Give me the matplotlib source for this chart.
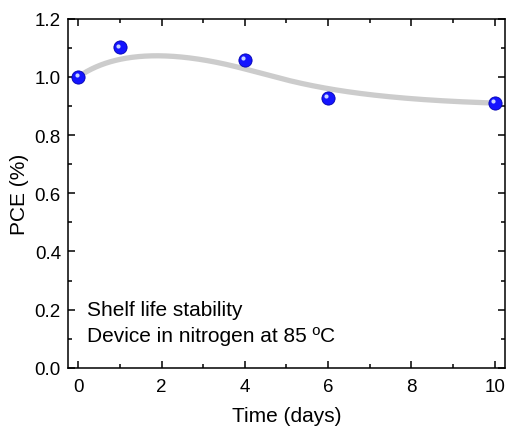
import numpy as np
import matplotlib
matplotlib.use("Agg")
import matplotlib.pyplot as plt
from matplotlib.ticker import MultipleLocator

plt.rcParams['font.family'] = ['Liberation Sans', 'DejaVu Sans']

time_days = [0, 1, 4, 6, 10]
pce = [1.00, 1.101, 1.058, 0.928, 0.910]
xlabel = "Time (days)"
ylabel = "PCE (%)"
note = "Shelf life stability\nDevice in nitrogen at 85 \u00baC"


def bspline(ctrl, n=300, k=3):
    ctrl = np.asarray(ctrl, float)
    m = len(ctrl)
    knots = np.concatenate([np.zeros(k), np.linspace(0, 1, m - k + 1), np.ones(k)])
    ts = np.linspace(0, 1, n)
    out = []
    for t in ts:
        if t >= 1:
            s = m - 1
        else:
            s = np.searchsorted(knots, t, side='right') - 1
        d = [ctrl[j + s - k].copy() for j in range(k + 1)]
        for r in range(1, k + 1):
            for j in range(k, r - 1, -1):
                i = j + s - k
                denom = knots[i + k + 1 - r] - knots[i]
                a = 0 if denom == 0 else (t - knots[i]) / denom
                d[j] = (1 - a) * d[j - 1] + a * d[j]
        out.append(d[k])
    return np.array(out)


fig = plt.figure(figsize=(5.07, 4.27), dpi=100)
ax = fig.add_axes([0.134, 0.136, 0.862, 0.818])

curve = bspline(np.column_stack([time_days, pce]))
ax.plot(curve[:, 0], curve[:, 1], color='#cccccc', lw=3.8, solid_capstyle='round', zorder=1)
ax.plot(time_days, pce, 'o', ms=9.5, color='#1414ff', mec='#0000b0', mew=0.6, zorder=3)
ax.plot(time_days, pce, 'o', ms=3.0, color='#c8d4ff', mec='none', zorder=4,
        transform=ax.transData + matplotlib.transforms.ScaledTranslation(-1.2/72, 1.2/72, fig.dpi_scale_trans))

ax.set_xlim(-0.25, 10.25)
ax.set_ylim(0, 1.2)
ax.xaxis.set_major_locator(MultipleLocator(2))
ax.xaxis.set_minor_locator(MultipleLocator(1))
ax.yaxis.set_major_locator(MultipleLocator(0.2))
ax.yaxis.set_minor_locator(MultipleLocator(0.1))
ax.yaxis.set_major_formatter(matplotlib.ticker.FormatStrFormatter('%.1f'))
ax.tick_params(which='both', direction='in', top=True, right=True, labelsize=13.5, width=1.1)
ax.tick_params(which='major', length=5)
ax.tick_params(which='minor', length=3)
ax.tick_params(axis='x', pad=7)
ax.tick_params(axis='y', pad=5)
for s in ax.spines.values():
    s.set_linewidth(1.1)
ax.set_xlabel(xlabel, fontsize=15, labelpad=8)
ax.set_ylabel(ylabel, fontsize=15, labelpad=4)
ax.text(0.043, 0.066, note, transform=ax.transAxes, fontsize=15, linespacing=1.45, va='bottom', ha='left')

fig.savefig("out.png", dpi=100)
